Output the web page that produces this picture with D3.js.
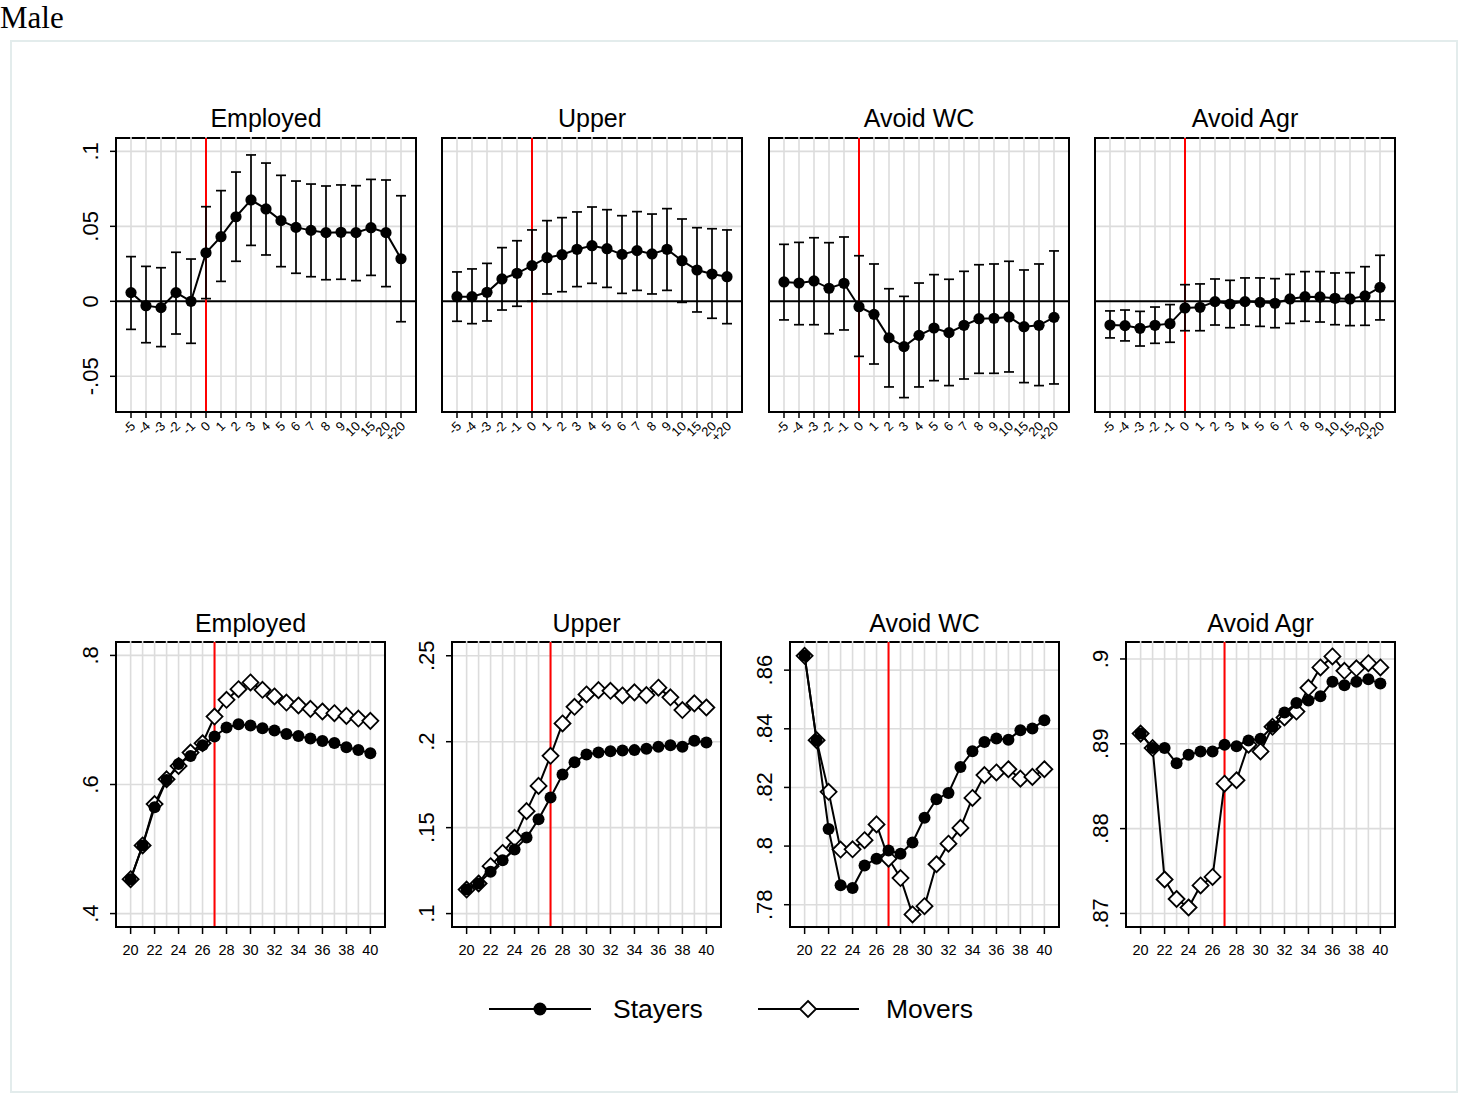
<!DOCTYPE html>
<html>
<head>
<meta charset="utf-8">
<script src="https://cdn.jsdelivr.net/npm/d3@7"></script>
<style>
  html, body { margin: 0; padding: 0; background: #ffffff; }
  svg { display: block; }
</style>
</head>
<body>
<svg id="chart" width="1459" height="1095"></svg>
<script>
// ---------------- DATA ----------------
const eventCategories = ["-5","-4","-3","-2","-1","0","1","2","3","4","5","6","7","8","9","10","15","20","+20"];
const eventTitles = ["Employed", "Upper", "Avoid WC", "Avoid Agr"];

const employedCoef = [0.0058,-0.0029,-0.0042,0.0058,0.0000,0.0324,0.0431,0.0564,0.0676,0.0616,0.0538,0.0493,0.0473,0.0458,0.0460,0.0458,0.0491,0.0458,0.0284];
const employedHi   = [0.0298,0.0233,0.0224,0.0327,0.0282,0.0631,0.0738,0.0862,0.0976,0.0922,0.0840,0.0802,0.0782,0.0769,0.0776,0.0771,0.0813,0.0809,0.0704];
const employedLo   = [-0.0187,-0.0276,-0.0302,-0.0218,-0.0280,0.0018,0.0133,0.0267,0.0373,0.0309,0.0231,0.0187,0.0164,0.0144,0.0147,0.0138,0.0173,0.0098,-0.0136];

const upperCoef = [0.0031,0.0031,0.0060,0.0149,0.0187,0.0238,0.0291,0.0311,0.0347,0.0371,0.0351,0.0313,0.0338,0.0316,0.0347,0.0271,0.0209,0.0182,0.0164];
const upperHi   = [0.0196,0.0216,0.0253,0.0358,0.0404,0.0476,0.0538,0.0558,0.0596,0.0629,0.0611,0.0571,0.0598,0.0582,0.0618,0.0549,0.0491,0.0484,0.0476];
const upperLo   = [-0.0133,-0.0149,-0.0131,-0.0058,-0.0033,0.0000,0.0049,0.0064,0.0098,0.0120,0.0093,0.0053,0.0073,0.0049,0.0073,-0.0007,-0.0071,-0.0113,-0.0149];

const avoidWCCoef = [0.0129,0.0122,0.0136,0.0087,0.0120,-0.0036,-0.0087,-0.0244,-0.0302,-0.0227,-0.0178,-0.0209,-0.0160,-0.0116,-0.0113,-0.0104,-0.0169,-0.0160,-0.0107];
const avoidWCHi   = [0.0380,0.0393,0.0424,0.0391,0.0429,0.0304,0.0249,0.0084,0.0033,0.0122,0.0178,0.0147,0.0200,0.0244,0.0249,0.0267,0.0209,0.0249,0.0336];
const avoidWCLo   = [-0.0124,-0.0156,-0.0156,-0.0216,-0.0191,-0.0367,-0.0418,-0.0571,-0.0642,-0.0571,-0.0529,-0.0562,-0.0518,-0.0480,-0.0480,-0.0471,-0.0542,-0.0562,-0.0551];

const avoidAgrCoef = [-0.0158,-0.0162,-0.0180,-0.0160,-0.0149,-0.0044,-0.0040,-0.0002,-0.0018,-0.0002,-0.0007,-0.0013,0.0016,0.0031,0.0029,0.0020,0.0016,0.0036,0.0093];
const avoidAgrHi   = [-0.0064,-0.0058,-0.0067,-0.0038,-0.0022,0.0111,0.0116,0.0149,0.0140,0.0156,0.0156,0.0151,0.0180,0.0198,0.0198,0.0189,0.0191,0.0231,0.0307];
const avoidAgrLo   = [-0.0244,-0.0264,-0.0298,-0.0280,-0.0273,-0.0196,-0.0196,-0.0158,-0.0176,-0.0158,-0.0167,-0.0176,-0.0147,-0.0133,-0.0138,-0.0156,-0.0162,-0.0160,-0.0124];

const eventYTicks = [-0.05, 0, 0.05, 0.1];

const ages = [20,21,22,23,24,25,26,27,28,29,30,31,32,33,34,35,36,37,38,39,40];
const ageTicks = [20,22,24,26,28,30,32,34,36,38,40];
const moveAge = 27;

const stayersEmployed = [0.4533,0.5056,0.5646,0.6070,0.6318,0.6442,0.6608,0.6743,0.6882,0.6934,0.6913,0.6872,0.6836,0.6784,0.6753,0.6711,0.6675,0.6644,0.6577,0.6536,0.6484];
const moversEmployed  = [0.4533,0.5056,0.5697,0.6080,0.6287,0.6494,0.6639,0.7053,0.7312,0.7477,0.7581,0.7467,0.7364,0.7270,0.7224,0.7172,0.7131,0.7105,0.7063,0.7022,0.6986];

const stayersUpper = [0.1140,0.1175,0.1243,0.1310,0.1373,0.1442,0.1549,0.1675,0.1809,0.1881,0.1926,0.1937,0.1945,0.1949,0.1951,0.1959,0.1970,0.1980,0.1970,0.2005,0.1996];
const moversUpper  = [0.1140,0.1175,0.1276,0.1353,0.1441,0.1596,0.1743,0.1918,0.2106,0.2203,0.2275,0.2300,0.2296,0.2269,0.2287,0.2271,0.2314,0.2258,0.2184,0.2223,0.2199];

const stayersAvoidWC = [0.8649,0.8361,0.8058,0.7866,0.7857,0.7934,0.7957,0.7985,0.7974,0.8012,0.8097,0.8160,0.8181,0.8270,0.8323,0.8355,0.8367,0.8363,0.8395,0.8401,0.8429];
const moversAvoidWC  = [0.8649,0.8361,0.8185,0.7988,0.7989,0.8020,0.8074,0.7957,0.7891,0.7767,0.7795,0.7938,0.8008,0.8062,0.8164,0.8242,0.8251,0.8262,0.8230,0.8236,0.8262];

const stayersAvoidAgr = [0.8912,0.8895,0.8895,0.8877,0.8887,0.8891,0.8891,0.8899,0.8897,0.8904,0.8906,0.8920,0.8937,0.8948,0.8951,0.8956,0.8973,0.8969,0.8973,0.8976,0.8971];
const moversAvoidAgr  = [0.8912,0.8895,0.8740,0.8717,0.8707,0.8733,0.8743,0.8853,0.8857,0.8899,0.8891,0.8920,0.8931,0.8938,0.8966,0.8990,0.9003,0.8986,0.8989,0.8995,0.8990];

const profileTitles = ["Employed", "Upper", "Avoid WC", "Avoid Agr"];
const profileYTicks = [[0.4,0.6,0.8],[0.1,0.15,0.2,0.25],[0.78,0.8,0.82,0.84,0.86],[0.87,0.88,0.89,0.9]];
const legendLabels = ["Stayers", "Movers"];

// ---------------- DRAWING ----------------
const svg = d3.select("#chart");
const FONT = "'Liberation Sans', Arial, Helvetica, sans-serif";
const GRID = "#dcdcdc";
const fmt = v => {
  let s = String(+v.toFixed(4));
  return s.replace(/^0\./, ".").replace(/^-0\./, "-.");
};

// title and outer frame
svg.append("text").attr("x", 0).attr("y", 28)
  .attr("font-family", "'Liberation Serif', 'Times New Roman', serif")
  .attr("font-size", 31).attr("fill", "#000").text("Male");
svg.append("rect").attr("x", 11).attr("y", 41).attr("width", 1446).attr("height", 1051)
  .attr("fill", "none").attr("stroke", "#e3ecec").attr("stroke-width", 2);

function frame(g, x0, x1, y0, y1) {
  g.append("line").attr("x1", x0).attr("x2", x1).attr("y1", y0).attr("y2", y0)
    .attr("stroke", "#000").attr("stroke-width", 2);
}
function frameSides(g, x0, x1, y0, y1) {
  g.append("path").attr("d", `M${x0},${y0-1}V${y1}H${x1}V${y0-1}`)
    .attr("fill", "none").attr("stroke", "#000").attr("stroke-width", 2);
}

// ---------- top row: event-study panels ----------
const eventData = [
  [employedCoef, employedLo, employedHi],
  [upperCoef, upperLo, upperHi],
  [avoidWCCoef, avoidWCLo, avoidWCHi],
  [avoidAgrCoef, avoidAgrLo, avoidAgrHi]
];
const topLefts = [116, 442, 769, 1095];
const topW = 300, topY0 = 138, topY1 = 412;
const yTop = d3.scaleLinear().domain([-0.0738, 0.1089]).range([topY1, topY0]);

eventData.forEach((ser, p) => {
  const [coef, lo, hi] = ser;
  const x0 = topLefts[p], x1 = x0 + topW;
  const x = d3.scaleLinear().domain([-1, 19]).range([x0, x1]);
  const g = svg.append("g");
  frame(g, x0, x1, topY0, topY1);
  eventYTicks.filter(v => v !== 0).forEach(v => {
    g.append("line").attr("x1", x0).attr("x2", x1).attr("y1", yTop(v)).attr("y2", yTop(v))
      .attr("stroke", GRID).attr("stroke-width", 1.6);
  });
  eventCategories.forEach((c, i) => {
    g.append("line").attr("x1", x(i)).attr("x2", x(i)).attr("y1", topY0 - 1).attr("y2", topY1)
      .attr("stroke", GRID).attr("stroke-width", 1.6);
  });
  g.append("line").attr("x1", x0).attr("x2", x1).attr("y1", yTop(0)).attr("y2", yTop(0))
    .attr("stroke", "#000").attr("stroke-width", 2);
  const zi = eventCategories.indexOf("0");
  g.append("line").attr("x1", x(zi)).attr("x2", x(zi)).attr("y1", topY0).attr("y2", topY1)
    .attr("stroke", "#ff0000").attr("stroke-width", 2);
  frameSides(g, x0, x1, topY0, topY1);
  eventCategories.forEach((c, i) => {
    g.append("line").attr("x1", x(i)).attr("x2", x(i)).attr("y1", topY1).attr("y2", topY1 + 6)
      .attr("stroke", "#000").attr("stroke-width", 1.5);
    g.append("text").attr("transform", `translate(${x(i) + 5},${topY1 + 15}) rotate(-45)`)
      .attr("text-anchor", "end").attr("font-family", FONT).attr("font-size", 13)
      .attr("fill", "#000").text(c);
  });
  if (p === 0) {
    eventYTicks.forEach(v => {
      g.append("line").attr("x1", x0 - 6).attr("x2", x0).attr("y1", yTop(v)).attr("y2", yTop(v))
        .attr("stroke", "#000").attr("stroke-width", 1.5);
      g.append("text").attr("transform", `translate(${x0 - 18},${yTop(v)}) rotate(-90)`)
        .attr("text-anchor", "middle").attr("font-family", FONT).attr("font-size", 22)
        .attr("fill", "#000").text(fmt(v));
    });
  }
  coef.forEach((v, i) => {
    g.append("line").attr("x1", x(i)).attr("x2", x(i)).attr("y1", yTop(lo[i])).attr("y2", yTop(hi[i]))
      .attr("stroke", "#000").attr("stroke-width", 1.7);
    [lo[i], hi[i]].forEach(e => {
      g.append("line").attr("x1", x(i) - 5).attr("x2", x(i) + 5).attr("y1", yTop(e)).attr("y2", yTop(e))
        .attr("stroke", "#000").attr("stroke-width", 1.7);
    });
  });
  g.append("path").datum(coef)
    .attr("d", d3.line().x((d, i) => x(i)).y(d => yTop(d)))
    .attr("fill", "none").attr("stroke", "#000").attr("stroke-width", 2);
  g.selectAll("circle.pt").data(coef).enter().append("circle")
    .attr("cx", (d, i) => x(i)).attr("cy", d => yTop(d)).attr("r", 5.6).attr("fill", "#000");
  g.append("text").attr("x", (x0 + x1) / 2).attr("y", 127).attr("text-anchor", "middle")
    .attr("font-family", FONT).attr("font-size", 25).attr("fill", "#000").text(eventTitles[p]);
});

// ---------- bottom row: age profiles ----------
const profileData = [
  [stayersEmployed, moversEmployed],
  [stayersUpper, moversUpper],
  [stayersAvoidWC, moversAvoidWC],
  [stayersAvoidAgr, moversAvoidAgr]
];
const profileDomains = [[0.3792, 0.8208], [0.0922, 0.258], [0.7724, 0.8696], [0.8684, 0.902]];
const botLefts = [116, 452, 790, 1126];
const botW = 269, botY0 = 642, botY1 = 927;
const diamond = (cx, cy, r) => `M${cx},${cy - r}L${cx + r},${cy}L${cx},${cy + r}L${cx - r},${cy}Z`;

profileData.forEach((ser, p) => {
  const [stay, move] = ser;
  const x0 = botLefts[p], x1 = x0 + botW;
  const x = d3.scaleLinear().domain([18.78, 41.22]).range([x0, x1]);
  const y = d3.scaleLinear().domain(profileDomains[p]).range([botY1, botY0]);
  const g = svg.append("g");
  frame(g, x0, x1, botY0, botY1);
  profileYTicks[p].forEach(v => {
    g.append("line").attr("x1", x0).attr("x2", x1).attr("y1", y(v)).attr("y2", y(v))
      .attr("stroke", GRID).attr("stroke-width", 1.6);
  });
  ages.forEach(a => {
    g.append("line").attr("x1", x(a)).attr("x2", x(a)).attr("y1", botY0 - 1).attr("y2", botY1)
      .attr("stroke", GRID).attr("stroke-width", 1.6);
  });
  g.append("line").attr("x1", x(moveAge)).attr("x2", x(moveAge)).attr("y1", botY0).attr("y2", botY1)
    .attr("stroke", "#ff0000").attr("stroke-width", 2);
  frameSides(g, x0, x1, botY0, botY1);
  ageTicks.forEach(a => {
    g.append("line").attr("x1", x(a)).attr("x2", x(a)).attr("y1", botY1).attr("y2", botY1 + 7)
      .attr("stroke", "#000").attr("stroke-width", 1.5);
    g.append("text").attr("x", x(a)).attr("y", 955).attr("text-anchor", "middle")
      .attr("font-family", FONT).attr("font-size", 14.5).attr("fill", "#000").text(a);
  });
  profileYTicks[p].forEach(v => {
    g.append("line").attr("x1", x0 - 6).attr("x2", x0).attr("y1", y(v)).attr("y2", y(v))
      .attr("stroke", "#000").attr("stroke-width", 1.5);
    g.append("text").attr("transform", `translate(${x0 - 18},${y(v)}) rotate(-90)`)
      .attr("text-anchor", "middle").attr("font-family", FONT).attr("font-size", 22)
      .attr("fill", "#000").text(fmt(v));
  });
  const line = d3.line().x((d, i) => x(ages[i])).y(d => y(d));
  g.append("path").datum(move).attr("d", line)
    .attr("fill", "none").attr("stroke", "#000").attr("stroke-width", 2);
  g.selectAll("path.mv").data(move).enter().append("path")
    .attr("d", (d, i) => diamond(x(ages[i]), y(d), 8))
    .attr("fill", "#fff").attr("stroke", "#000").attr("stroke-width", 1.8);
  g.append("path").datum(stay).attr("d", line)
    .attr("fill", "none").attr("stroke", "#000").attr("stroke-width", 2);
  g.selectAll("circle.st").data(stay).enter().append("circle")
    .attr("cx", (d, i) => x(ages[i])).attr("cy", d => y(d)).attr("r", 6).attr("fill", "#000");
  g.append("text").attr("x", (x0 + x1) / 2).attr("y", 632).attr("text-anchor", "middle")
    .attr("font-family", FONT).attr("font-size", 25).attr("fill", "#000").text(profileTitles[p]);
});

// ---------- legend ----------
const lg = svg.append("g");
const legY = 1009;
[[489, 591, 540, 613], [758, 859, 808, 886]].forEach((pos, k) => {
  lg.append("line").attr("x1", pos[0]).attr("x2", pos[1]).attr("y1", legY).attr("y2", legY)
    .attr("stroke", "#000").attr("stroke-width", 2);
  if (k === 0) {
    lg.append("circle").attr("cx", pos[2]).attr("cy", legY).attr("r", 6.5).attr("fill", "#000");
  } else {
    lg.append("path").attr("d", diamond(pos[2], legY, 8))
      .attr("fill", "#fff").attr("stroke", "#000").attr("stroke-width", 1.8);
  }
  lg.append("text").attr("x", pos[3]).attr("y", legY + 9).attr("font-family", FONT)
    .attr("font-size", 26.5).attr("fill", "#000").text(legendLabels[k]);
});
</script>
</body>
</html>
